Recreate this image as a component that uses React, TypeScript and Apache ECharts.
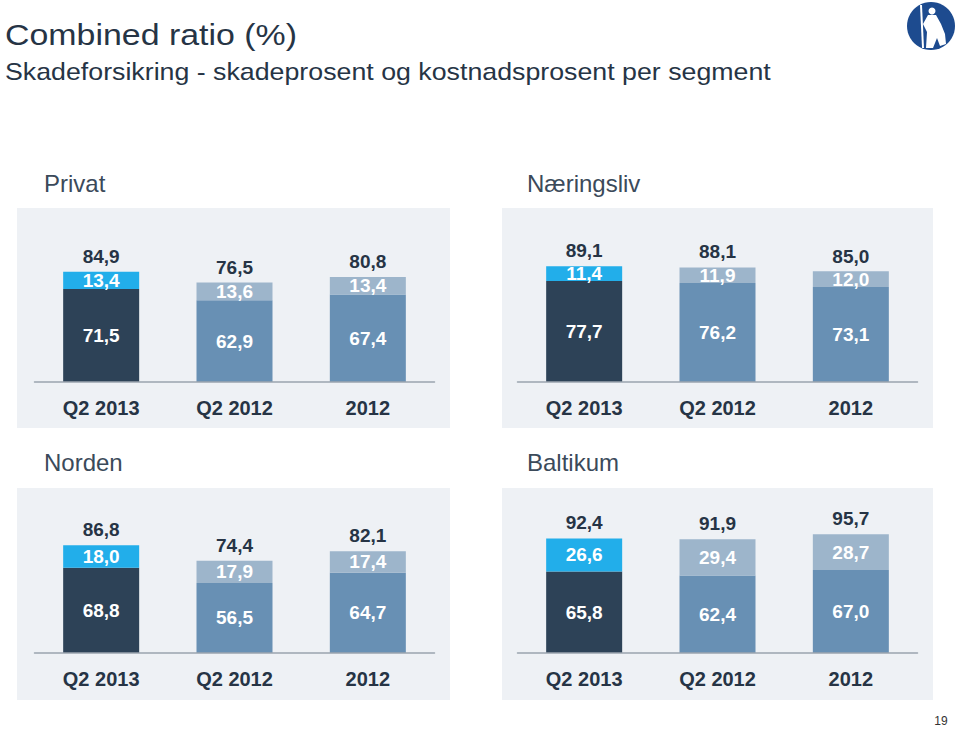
import React, { useEffect, useRef } from "react";
import * as echarts from "echarts";

const categories = ["Q2 2013", "Q2 2012", "2012"];
const panelTitles = ["Privat", "Næringsliv", "Norden", "Baltikum"];

const privatLoss = [71.5, 62.9, 67.4];
const privatCost = [13.4, 13.6, 13.4];
const privatTotal = [84.9, 76.5, 80.8];

const naeringslivLoss = [77.7, 76.2, 73.1];
const naeringslivCost = [11.4, 11.9, 12.0];
const naeringslivTotal = [89.1, 88.1, 85.0];

const nordenLoss = [68.8, 56.5, 64.7];
const nordenCost = [18.0, 17.9, 17.4];
const nordenTotal = [86.8, 74.4, 82.1];

const baltikumLoss = [65.8, 62.4, 67.0];
const baltikumCost = [26.6, 29.4, 28.7];
const baltikumTotal = [92.4, 91.9, 95.7];

const FONT = "'Liberation Sans', Arial, Helvetica, sans-serif";
const DARK = "#263445";
const CUR_LOSS = "#2d4257";
const CUR_COST = "#22aeea";
const OLD_LOSS = "#6890b4";
const OLD_COST = "#9db5cb";
const PANEL_BG = "#eef1f5";

const fmt = (v: number) => v.toFixed(1).replace(".", ",");

export default function App() {
  const ref = useRef<HTMLDivElement>(null);

  useEffect(() => {
    if (!ref.current) return;
    const chart = echarts.init(ref.current, null, { renderer: "svg" });

    const panels = [
      { loss: privatLoss, cost: privatCost, total: privatTotal },
      { loss: naeringslivLoss, cost: naeringslivCost, total: naeringslivTotal },
      { loss: nordenLoss, cost: nordenCost, total: nordenTotal },
      { loss: baltikumLoss, cost: baltikumCost, total: baltikumTotal },
    ];

    const gridDefs = [
      { left: 34.5, top: 252, width: 400, height: 130 },
      { left: 517.5, top: 252, width: 400, height: 130 },
      { left: 34.5, top: 529, width: 400, height: 124 },
      { left: 517.5, top: 529, width: 400, height: 124 },
    ];

    const grid = gridDefs.map((g) => ({ ...g, containLabel: false }));
    const xAxis = gridDefs.map((_, i) => ({
      type: "category",
      gridIndex: i,
      data: categories,
      axisLine: { show: true, lineStyle: { color: "#9aa4ae", width: 1.5 } },
      axisTick: { show: false },
      axisLabel: {
        color: DARK,
        fontFamily: FONT,
        fontWeight: "bold",
        fontSize: 20,
        margin: 16,
      },
      z: 3,
    }));
    const yAxis = gridDefs.map((_, i) => ({
      type: "value",
      gridIndex: i,
      min: 0,
      max: 100,
      show: false,
      splitLine: { show: false },
    }));

    const series: any[] = [];
    panels.forEach((p, i) => {
      const innerLabel = {
        show: true,
        position: "inside",
        color: "#ffffff",
        fontFamily: FONT,
        fontWeight: "bold",
        fontSize: 19,
        formatter: (d: any) => fmt(d.value),
      };
      series.push({
        type: "bar",
        name: "Skadeprosent",
        xAxisIndex: i,
        yAxisIndex: i,
        stack: "s" + i,
        barWidth: 76,
        barGap: "-100%",
        silent: true,
        data: p.loss.map((v, k) => ({
          value: v,
          itemStyle: { color: k === 0 ? CUR_LOSS : OLD_LOSS },
        })),
        label: innerLabel,
      });
      series.push({
        type: "bar",
        name: "Kostnadsprosent",
        xAxisIndex: i,
        yAxisIndex: i,
        stack: "s" + i,
        barWidth: 76,
        barGap: "-100%",
        silent: true,
        data: p.cost.map((v, k) => ({
          value: v,
          itemStyle: { color: k === 0 ? CUR_COST : OLD_COST },
        })),
        label: innerLabel,
      });
      series.push({
        type: "bar",
        name: "Combined ratio",
        xAxisIndex: i,
        yAxisIndex: i,
        barWidth: 76,
        barGap: "-100%",
        silent: true,
        z: 1,
        itemStyle: { color: "rgba(0,0,0,0)" },
        data: p.total,
        label: {
          show: true,
          position: "top",
          distance: 6,
          color: DARK,
          fontFamily: FONT,
          fontWeight: "bold",
          fontSize: 19,
          formatter: (d: any) => fmt(d.value),
        },
      });
    });

    const panelRects = [
      { x: 17, y: 208, w: 433, h: 220 },
      { x: 502, y: 208, w: 431, h: 220 },
      { x: 17, y: 488, w: 433, h: 212 },
      { x: 502, y: 488, w: 431, h: 212 },
    ];
    const titlePos = [
      { x: 44, y: 183 },
      { x: 527, y: 183 },
      { x: 44, y: 462 },
      { x: 527, y: 462 },
    ];

    const graphic: any[] = [];
    panelRects.forEach((r) => {
      graphic.push({
        type: "rect",
        silent: true,
        z: -10,
        shape: { x: r.x, y: r.y, width: r.w, height: r.h },
        style: { fill: PANEL_BG },
      });
    });
    titlePos.forEach((t, i) => {
      graphic.push({
        type: "text",
        x: t.x,
        y: t.y,
        silent: true,
        style: {
          text: panelTitles[i],
          fill: "#3b4a5a",
          font: `24px ${FONT}`,
          verticalAlign: "middle",
          align: "left",
        },
      });
    });
    graphic.push({
      type: "text",
      x: 5,
      y: 35,
      scaleX: 1.13,
      silent: true,
      style: {
        text: "Combined ratio (%)",
        fill: DARK,
        font: `30px ${FONT}`,
        verticalAlign: "middle",
      },
    });
    graphic.push({
      type: "text",
      x: 5,
      y: 72,
      scaleX: 1.115,
      silent: true,
      style: {
        text: "Skadeforsikring - skadeprosent og kostnadsprosent per segment",
        fill: DARK,
        font: `24px ${FONT}`,
        verticalAlign: "middle",
      },
    });
    // logo
    graphic.push({
      type: "circle",
      silent: true,
      shape: { cx: 931, cy: 26, r: 24 },
      style: { fill: "#1d4b8f" },
    });
    graphic.push({
      type: "line",
      silent: true,
      shape: { x1: 921, y1: 5, x2: 923, y2: 48 },
      style: { stroke: "#ffffff", lineWidth: 2 },
    });
    graphic.push({
      type: "circle",
      silent: true,
      shape: { cx: 932, cy: 11, r: 3.5 },
      style: { fill: "#ffffff" },
    });
    graphic.push({
      type: "polygon",
      silent: true,
      shape: {
        points: [
          [928, 15],
          [936, 15],
          [941, 24],
          [945, 34],
          [946, 44],
          [940, 46],
          [937, 38],
          [933, 48],
          [926, 48],
          [927, 32],
          [923, 24],
        ],
      },
      style: { fill: "#ffffff" },
    });
    graphic.push({
      type: "text",
      x: 941,
      y: 721,
      silent: true,
      style: {
        text: "19",
        fill: "#333333",
        font: `12px ${FONT}`,
        align: "center",
        verticalAlign: "middle",
      },
    });

    chart.setOption({
      animation: false,
      backgroundColor: "#ffffff",
      grid,
      xAxis,
      yAxis,
      series,
      graphic,
    });

    return () => chart.dispose();
  }, []);

  return (
    <div
      ref={ref}
      style={{ position: "absolute", left: 0, top: 0, width: 960, height: 730 }}
    />
  );
}
